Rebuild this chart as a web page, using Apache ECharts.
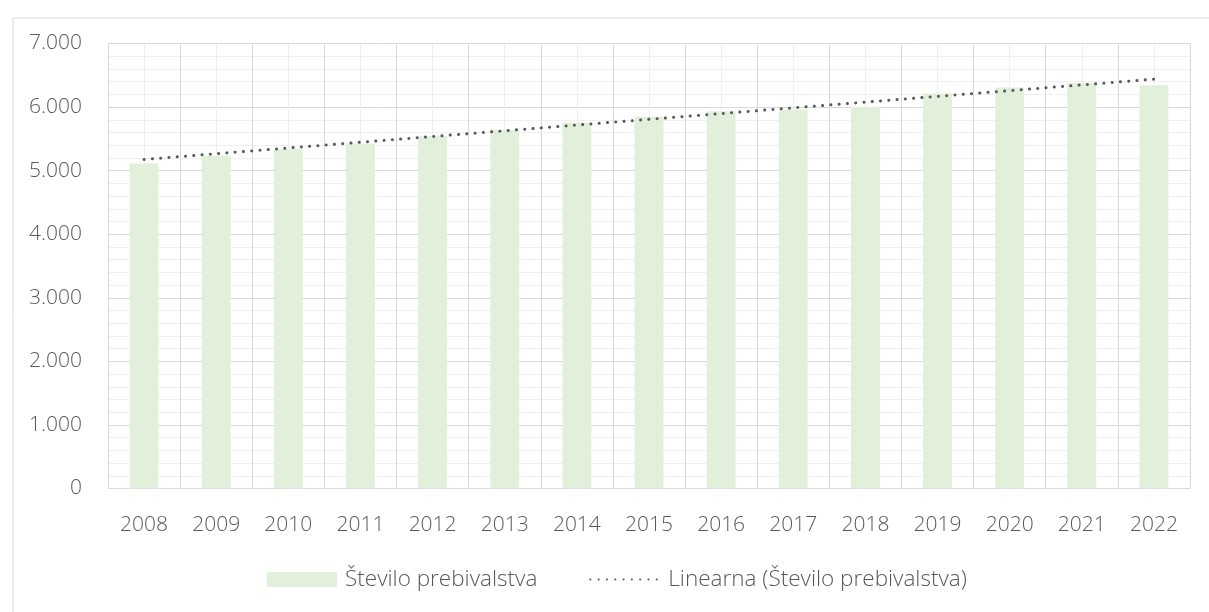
<!DOCTYPE html>
<html>
<head>
<meta charset="utf-8">
<script src="https://cdn.jsdelivr.net/npm/echarts@6/dist/echarts.min.js"></script>
<style>
html,body{margin:0;padding:0;background:#fff;}
#chart{width:1209px;height:612px;}
</style>
</head>
<body>
<div id="chart"></div>
<script>
var categories = ['2008','2009','2010','2011','2012','2013','2014','2015','2016','2017','2018','2019','2020','2021','2022'];
var population = [5113, 5233, 5338, 5428, 5542, 5645, 5758, 5846, 5936, 5962, 6003, 6214, 6308, 6380, 6344];
var trendStart = 5176;
var trendEnd = 6439;
var yTicks = [0, 1000, 2000, 3000, 4000, 5000, 6000, 7000];
var barName = 'Število prebivalstva';
var trendName = 'Linearna (Število prebivalstva)';

var FONT = '"Open Sans", sans-serif';
var chart = echarts.init(document.getElementById('chart'), null, {renderer:'canvas'});
chart.setOption({
  animation: false,
  backgroundColor: '#fff',
  graphic: [{
    type: 'rect', left: 10.5, top: 15.5, z: -10,
    shape: {x: 0, y: 0, width: 1400, height: 800},
    style: {fill: 'none', stroke: '#d9d9d9', lineWidth: 1}
  }],
  grid: {left: 108, right: 19, top: 43.5, bottom: 123.5, containLabel: false},
  legend: {
    left: 267, top: 568, padding: 0, itemWidth: 70, itemHeight: 15, itemGap: 52,
    textStyle: {fontFamily: FONT, fontSize: 22.5, fontWeight: 300, color: '#595959', padding: [0,0,0,3]},
    data: [
      {name: barName, icon: 'rect'},
      {name: trendName, itemStyle: {opacity: 0, borderWidth: 0}}
    ]
  },
  xAxis: [{
    type: 'category', data: categories, boundaryGap: true,
    axisLine: {show: false}, axisTick: {show: false}, splitLine: {show: false},
    axisLabel: {fontFamily: FONT, fontSize: 21, fontWeight: 300, color: '#595959', margin: 26}
  }, {
    type: 'value', min: 0, max: categories.length * 2, interval: 1,
    show: true, axisLine: {show: false}, axisTick: {show: false}, axisLabel: {show: false},
    splitLine: {show: true, lineStyle: {color: ['#d9d9d9', '#efefef'], width: 1}}
  }],
  yAxis: {
    type: 'value', min: yTicks[0], max: yTicks[yTicks.length-1], interval: 1000,
    axisLine: {show: false}, axisTick: {show: false},
    axisLabel: {fontFamily: FONT, fontSize: 21, fontWeight: 300, color: '#595959', margin: 26,
      formatter: function(v){ return String(v).replace(/\B(?=(\d{3})+(?!\d))/g, '.'); }},
    splitLine: {show: true, lineStyle: {color: '#d9d9d9', width: 1}},
    minorTick: {show: false, splitNumber: 5},
    minorSplitLine: {show: true, lineStyle: {color: '#efefef', width: 1}}
  },
  series: [{
    name: barName, type: 'bar', data: population, barWidth: '40%', xAxisIndex: 0,
    itemStyle: {color: '#e2efda'}, z: 2
  }, {
    name: trendName, type: 'line', xAxisIndex: 0,
    data: [[categories[0], trendStart], [categories[categories.length-1], trendEnd]],
    symbol: 'none', z: 3,
    lineStyle: {color: '#595959', width: 3, type: [0.1, 8.2], cap: 'round'},
    itemStyle: {color: '#595959'}
  }]
});
</script>
</body>
</html>
